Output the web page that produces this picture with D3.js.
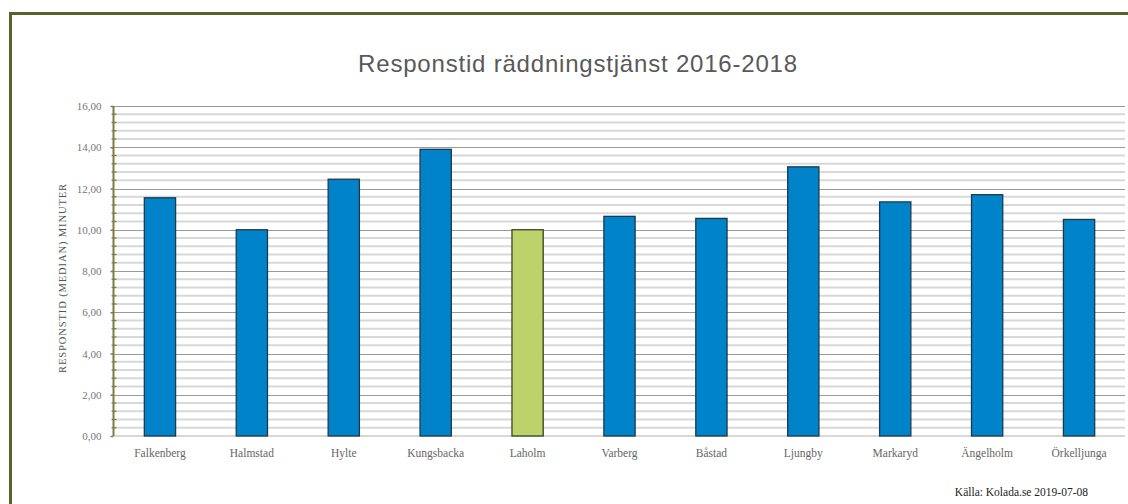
<!DOCTYPE html>
<html><head><meta charset="utf-8">
<script src="https://cdn.jsdelivr.net/npm/d3@7"></script>
<style>html,body{margin:0;padding:0;background:#fff;}svg{display:block;}</style>
</head><body>
<svg id="chart" width="1128" height="504"></svg>
<script>
const categories = ["Falkenberg","Halmstad","Hylte","Kungsbacka","Laholm","Varberg","Båstad","Ljungby","Markaryd","Ängelholm","Örkelljunga"];
const values = [11.55, 10.0, 12.45, 13.9, 10.0, 10.65, 10.55, 13.05, 11.35, 11.7, 10.5];
const highlight = ["Laholm"];
const yTicks = [0,2,4,6,8,10,12,14,16];
const minorStep = 0.4;
const title = "Responstid räddningstjänst 2016-2018";
const yTitle = "RESPONSTID (MEDIAN) MINUTER";
const source = "Källa: Kolada.se 2019-07-08";

(function(){
const svg = d3.select("#chart");
const pLeft = 114, pRight = 1125, pTop = 106, pBottom = 436;

// frame
svg.append("rect").attr("x",10.5).attr("y",13.5).attr("width",1140).attr("height",520)
  .attr("fill","none").attr("stroke","#56632a").attr("stroke-width",3);

const x = d3.scaleBand().domain(categories).range([pLeft,pRight]).paddingInner(0.66).paddingOuter(0.33);
const y = d3.scaleLinear().domain([0,16]).range([pBottom,pTop]);
const loc = d3.formatLocale({decimal:",",thousands:" ",grouping:[3],currency:["","kr"]});
const fmt = loc.format(".2f");

// minor gridlines
const minor = d3.range(0, 16 + 1e-9, minorStep).filter(v => !yTicks.some(t => Math.abs(t - v) < 1e-6));
svg.append("g").selectAll("line").data(minor.concat([0])).join("line")
  .attr("x1",pLeft).attr("x2",pRight).attr("y1",d=>y(d)).attr("y2",d=>y(d))
  .attr("stroke","#d8d8d8").attr("stroke-width",2);
// major gridlines
svg.append("g").selectAll("line").data(yTicks.filter(t=>t>0)).join("line")
  .attr("x1",pLeft).attr("x2",pRight).attr("y1",d=>Math.round(y(d))+0.5).attr("y2",d=>Math.round(y(d))+0.5)
  .attr("stroke","#9a9a9a").attr("stroke-width",1.2);

// bars
svg.append("g").selectAll("rect").data(categories).join("rect")
  .attr("x",d=>x(d)).attr("width",x.bandwidth())
  .attr("y",(d,i)=>y(values[i])).attr("height",(d,i)=>y(0)-y(values[i]))
  .attr("fill",d=>highlight.includes(d)?"#bdd26b":"#0083c8")
  .attr("stroke",d=>highlight.includes(d)?"#3a4420":"#1d3a4c").attr("stroke-width",1.3);

// y axis
const yAxis = d3.axisLeft(y).tickValues(yTicks).tickFormat(fmt).tickSize(3).tickPadding(9);
const gy = svg.append("g").attr("transform",`translate(${pLeft-0.5},0)`).call(yAxis);
gy.select(".domain").attr("stroke","#7b7d45").attr("stroke-width",2).attr("d",`M0,${pTop}V${pBottom}`);
gy.selectAll(".tick line").attr("stroke","#7b7d45").attr("stroke-width",1.5);
gy.selectAll(".tick text").attr("fill","#777").attr("font-family","Liberation Serif, serif").attr("font-size",11);
// minor ticks on axis
gy.append("g").selectAll("line").data(minor).join("line")
  .attr("x1",-2).attr("x2",3).attr("y1",d=>y(d)).attr("y2",d=>y(d))
  .attr("stroke","#7b7d45").attr("stroke-width",1.2);

// x labels
svg.append("g").selectAll("text").data(categories).join("text")
  .attr("x",d=>x(d)+x.bandwidth()/2).attr("y",457)
  .attr("text-anchor","middle").attr("fill","#666")
  .attr("font-family","Liberation Serif, serif").attr("font-size",11.5).text(d=>d);

// title
svg.append("text").attr("x",578).attr("y",72).attr("text-anchor","middle")
  .attr("fill","#595959").attr("font-family","Liberation Sans, Arial, sans-serif").attr("font-size",24)
  .attr("letter-spacing",0.8).text(title);

// y title
svg.append("text").attr("transform",`translate(66,278) rotate(-90)`)
  .attr("text-anchor","middle").attr("fill","#555")
  .attr("font-family","Liberation Serif, serif").attr("font-size",10.5).attr("letter-spacing",0.9).text(yTitle);

// source
svg.append("text").attr("x",1088).attr("y",496).attr("text-anchor","end")
  .attr("fill","#222").attr("font-family","Liberation Serif, serif").attr("font-size",11.5).text(source);
})();
</script>
</body></html>
